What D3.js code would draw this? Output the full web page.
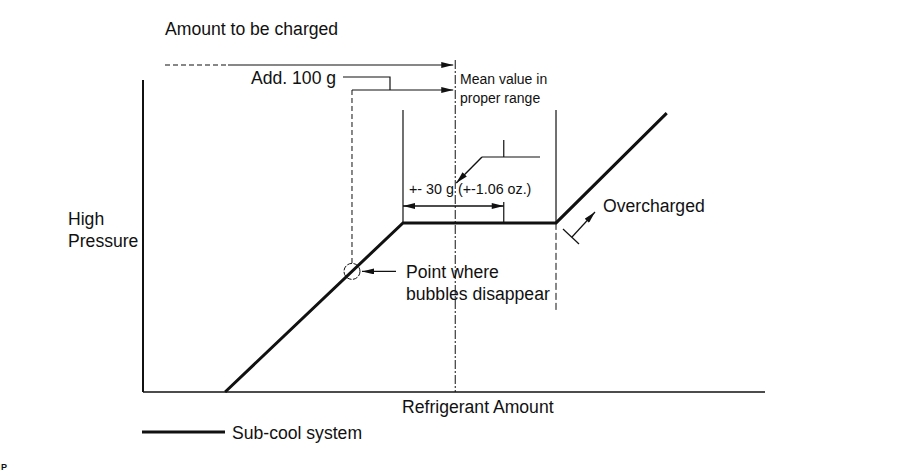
<!DOCTYPE html>
<html>
<head>
<meta charset="utf-8">
<script src="https://cdn.jsdelivr.net/npm/d3@7"></script>
<style>
  body { margin: 0; background: #fff; }
  svg text { font-family: "Liberation Sans", Arial, sans-serif; fill: #111; }
</style>
</head>
<body>
<div id="chart"></div>
<script>
// sub-cool system curve (refrigerant amount vs high pressure, arbitrary units)
const curveAmount = [13.2, 41.8, 66.4, 84.2];
const curvePressure = [0, 54.2, 54.2, 89.4];

// key amounts along the x axis
const bubbleAmount = 33.6;   // point where bubbles disappear
const meanAmount = 50.2;     // mean value in proper range
const rangeLow = 41.8;
const rangeHigh = 58.0;
const overchargeAmount = 66.4;

const labels = {
  title: "Amount to be charged",
  add: "Add. 100 g",
  mean: ["Mean value in", "proper range"],
  tol: "+- 30 g (+-1.06 oz.)",
  bubble: ["Point where", "bubbles disappear"],
  over: "Overcharged",
  yAxis: ["High", "Pressure"],
  xAxis: "Refrigerant Amount",
  legend: "Sub-cool system"
};

const width = 909, height = 475;
const x = d3.scaleLinear().domain([0, 100]).range([143, 765]);
const y = d3.scaleLinear().domain([0, 100]).range([392, 80]);

const svg = d3.select("#chart").append("svg")
  .attr("width", width)
  .attr("height", height)
  .attr("viewBox", `0 0 ${width} ${height}`);

svg.append("rect").attr("width", width).attr("height", height).attr("fill", "#fff");

// arrow head
svg.append("defs").append("marker")
  .attr("id", "arrow")
  .attr("viewBox", "0 0 12 6")
  .attr("refX", 12).attr("refY", 3)
  .attr("markerWidth", 13).attr("markerHeight", 6)
  .attr("markerUnits", "userSpaceOnUse")
  .attr("orient", "auto-start-reverse")
  .append("path").attr("d", "M0,0 L12,3 L0,6 Z").attr("fill", "#111");

const ink = "#111";
const line = (x1, y1, x2, y2, w = 1.2) => svg.append("line")
  .attr("x1", x1).attr("y1", y1).attr("x2", x2).attr("y2", y2)
  .attr("stroke", ink).attr("stroke-width", w);

// axes
line(x(0), y(0), x(0), y(100), 2);
line(x(0), y(0), x(100), y(0), 1.6);

// curve
const pts = curveAmount.map((a, i) => [x(a), y(curvePressure[i])]);
svg.append("path")
  .attr("d", d3.line()(pts))
  .attr("fill", "none")
  .attr("stroke", ink)
  .attr("stroke-width", 3)
  .attr("stroke-linejoin", "miter");

// mean value dash-dot line
line(x(meanAmount), 60, x(meanAmount), y(0), 1)
  .attr("stroke-dasharray", "9,2,2,2");

// vertical range lines
line(x(rangeLow), 110, x(rangeLow), y(curvePressure[1]), 1.2);
line(x(overchargeAmount), 110, x(overchargeAmount), y(curvePressure[2]), 1.2);
line(x(overchargeAmount), y(curvePressure[2]), x(overchargeAmount), 312, 1)
  .attr("stroke-dasharray", "7,3");

// bubble point dashed vertical + circle
const bubbleY = y(curvePressure[0]) + (x(bubbleAmount) - x(curveAmount[0])) *
  (y(curvePressure[1]) - y(curvePressure[0])) / (x(curveAmount[1]) - x(curveAmount[0]));
line(x(bubbleAmount), 90, x(bubbleAmount), bubbleY - 8, 1)
  .attr("stroke-dasharray", "5,3");
svg.append("circle")
  .attr("cx", x(bubbleAmount)).attr("cy", bubbleY).attr("r", 8)
  .attr("fill", "none").attr("stroke", ink).attr("stroke-width", 1)
  .attr("stroke-dasharray", "5,1.5");

// top arrows
line(165, 65, 228, 65, 1.2).attr("stroke-dasharray", "5,3");
line(228, 65, x(meanAmount) - 2, 65, 1.2).attr("marker-end", "url(#arrow)");
svg.append("path")
  .attr("d", `M343,77 H390 V90`)
  .attr("fill", "none").attr("stroke", ink).attr("stroke-width", 1.2);
line(x(bubbleAmount), 90, x(meanAmount) - 2, 90, 1.2).attr("marker-end", "url(#arrow)");

// tolerance dimension
const dimY = 206;
line(x(rangeLow), dimY, x(rangeHigh), dimY, 1.4)
  .attr("marker-start", "url(#arrow)")
  .attr("marker-end", "url(#arrow)");
line(x(rangeHigh), 202, x(rangeHigh), y(curvePressure[1]), 1.2);

// leader to mean value
svg.append("path")
  .attr("d", "M540,157 H482")
  .attr("fill", "none").attr("stroke", ink).attr("stroke-width", 1.2);
line(x(rangeHigh), 140, x(rangeHigh), 157, 1.2);
line(482, 157, x(meanAmount) + 1, 183, 1.4).attr("marker-end", "url(#arrow)");

// bubble arrow
line(396, bubbleY, x(bubbleAmount) + 10, bubbleY, 1.4).attr("marker-end", "url(#arrow)");

// overcharged arrow
line(572, 237, 595, 212, 1.2).attr("marker-end", "url(#arrow)");
line(563, 229, 579, 244, 1.2);

// legend
line(142, 432, 225, 432, 3);

// texts
const text = (t, tx, ty, size) => svg.append("text")
  .attr("x", tx).attr("y", ty).attr("font-size", size).text(t);

text(labels.title, 165, 35, 17.6);
text(labels.add, 251, 84, 17.6);
text(labels.mean[0], 460, 84, 14);
text(labels.mean[1], 460, 103, 14);
text(labels.tol, 409, 194, 14.3);
text(labels.bubble[0], 406, 278, 17.6);
text(labels.bubble[1], 406, 300, 17.6);
text(labels.over, 603, 212, 17.6);
text(labels.yAxis[0], 68, 225, 17.6);
text(labels.yAxis[1], 68, 247, 17.6);
text(labels.xAxis, 402, 413, 17.6);
text(labels.legend, 232, 439, 17.6);
text("P", 1, 470, 9).attr("font-weight", "bold");
</script>
</body>
</html>
